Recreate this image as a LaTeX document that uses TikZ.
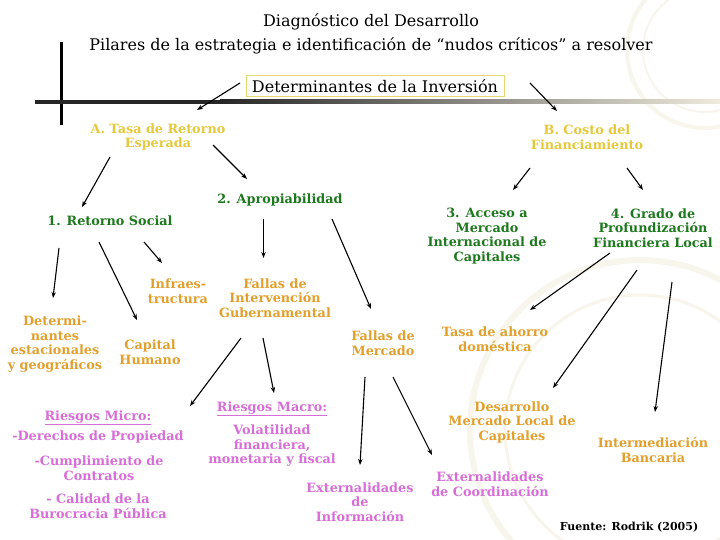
\documentclass[tikz,border=0pt]{standalone}
\usepackage{fontspec}
\setmainfont{DejaVu Serif}
\usetikzlibrary{arrows.meta}
\definecolor{cyel}{RGB}{230,200,60}
\definecolor{cgrn}{RGB}{30,120,30}
\definecolor{corg}{RGB}{225,160,45}
\definecolor{cpnk}{RGB}{215,110,215}
\definecolor{cbox}{RGB}{230,215,110}
\definecolor{cwm}{RGB}{248,245,236}
\definecolor{cbarend}{RGB}{238,234,220}
\begin{document}
\begin{tikzpicture}[x=1pt,y=-1pt,
  lbl/.style={align=center, inner sep=1pt, font=\fontsize{12.8}{14.5}\selectfont\bfseries},
  yel/.style={lbl,text=cyel},
  grn/.style={lbl,text=cgrn},
  org/.style={lbl,text=corg},
  pnk/.style={lbl,text=cpnk},
  ttl/.style={inner sep=1pt, font=\fontsize{16}{19}\selectfont},
  arr/.style={-{Stealth[length=6pt,width=4.5pt]}, line width=1.1pt},
  wm/.style={draw=cwm}
]
\useasboundingbox (0,0) rectangle (720,540);
\fill[white] (0,0) rectangle (720,540);
% faint watermark seals
\draw[wm, line width=4pt] (705,50) circle (78);
\draw[wm, line width=2pt] (705,50) circle (62);
\draw[wm, line width=6pt] (640,430) circle (170);
\draw[wm, line width=3pt] (640,430) circle (135);
% decorative bars
\fill[black] (59.5,42) rectangle (62.5,125);
\fill[black!85] (35,100) rectangle (220,104);
\shade[left color=black!85, right color=cbarend] (220,100) rectangle (720,104);
% titles
\node[ttl] (t1) at (371,22) {Diagnóstico del Desarrollo};
\node[ttl] (t2) at (371,46) {Pilares de la estrategia e identificación de “nudos críticos” a resolver};
\node[ttl, draw=cbox, line width=0.9pt, fill=white, minimum width=258pt, minimum height=21pt, inner sep=0pt] (det) at (375,86) {Determinantes de la Inversión};
% level A/B
\node[yel] (nA) at (158,137) {A. Tasa de Retorno\\Esperada};
\node[yel] (nB) at (587,137) {B. Costo del\\Financiamiento};
% green
\node[grn] (n1) at (110,221) {1. Retorno Social};
\node[grn] (n2) at (280,200) {2. Apropiabilidad};
\node[grn] (n3) at (487,236) {3. Acceso a\\Mercado\\Internacional de\\Capitales};
\node[grn] (n4) at (653,228) {4. Grado de\\Profundización\\Financiera Local};
% orange
\node[org] (infra) at (178,291) {Infraes-\\tructura};
\node[org] (fig) at (275,298) {Fallas de\\Intervención\\Gubernamental};
\node[org] (det2) at (55,344) {Determi-\\nantes\\estacionales\\y geográficos};
\node[org] (cap) at (150,352) {Capital\\Humano};
\node[org] (fm) at (383,343) {Fallas de\\Mercado};
\node[org] (ahorro) at (495,339) {Tasa de ahorro\\doméstica};
\node[org] (dml) at (512,422) {Desarrollo\\Mercado Local de\\Capitales};
\node[org] (ib) at (653,450) {Intermediación\\Bancaria};
% pink
\node[pnk] (microT) at (98,418) {\underline{Riesgos Micro:}};
\node[pnk] (micro1) at (98,437) {-Derechos de Propiedad};
\node[pnk] (micro2) at (99,468) {-Cumplimiento de\\Contratos};
\node[pnk] (micro3) at (98,506) {- Calidad de la\\Burocracia Pública};
\node[pnk] (macroT) at (272,409) {\underline{Riesgos Macro:}};
\node[pnk] (macro1) at (272,446) {Volatilidad\\financiera,\\monetaria y fiscal};
\node[pnk] (extinf) at (360,502) {Externalidades\\de\\Información};
\node[pnk] (extco) at (490,484) {Externalidades\\de Coordinación};
% source
\node[inner sep=1pt, font=\fontsize{11}{13}\selectfont\bfseries] (src) at (629,527) {Fuente: Rodrik (2005)};
% arrows
\draw[arr] ([shift={(-135,-3)}]det.center) -- ([shift={(39,-27)}]nA.center);
\draw[arr] ([shift={(155,-3)}]det.center) -- ([shift={(-30,-26)}]nB.center);
\draw[arr] ([shift={(-48,20)}]nA.center) -- ([shift={(-28,-14)}]n1.center);
\draw[arr] ([shift={(55,8)}]nA.center) -- ([shift={(-33,-21)}]n2.center);
\draw[arr] ([shift={(-57,31)}]nB.center) -- ([shift={(26,-46)}]n3.center);
\draw[arr] ([shift={(40,31)}]nB.center) -- ([shift={(-10,-38)}]n4.center);
\draw[arr] ([shift={(-51,27)}]n1.center) -- ([shift={(-2,-46)}]det2.center);
\draw[arr] ([shift={(-11,21)}]n1.center) -- ([shift={(-13,-32)}]cap.center);
\draw[arr] ([shift={(34,21)}]n1.center) -- ([shift={(-16,-28)}]infra.center);
\draw[arr] ([shift={(-16.5,19)}]n2.center) -- ([shift={(-11.5,-40)}]fig.center);
\draw[arr] ([shift={(52,19)}]n2.center) -- ([shift={(-12,-34)}]fm.center);
\draw[arr] ([shift={(-34,40)}]fig.center) -- ([shift={(92,-12)}]microT.center);
\draw[arr] ([shift={(-12,40)}]fig.center) -- ([shift={(2,-16)}]macroT.center);
\draw[arr] ([shift={(-18,34)}]fm.center) -- ([shift={(0,-37)}]extinf.center);
\draw[arr] ([shift={(10,34)}]fm.center) -- ([shift={(-58,-29)}]extco.center);
\draw[arr] ([shift={(-43,25)}]n4.center) -- ([shift={(35,-29)}]ahorro.center);
\draw[arr] ([shift={(-16,42)}]n4.center) -- ([shift={(41,-34)}]dml.center);
\draw[arr] ([shift={(19,54)}]n4.center) -- ([shift={(2,-38)}]ib.center);
\end{tikzpicture}
\end{document}
